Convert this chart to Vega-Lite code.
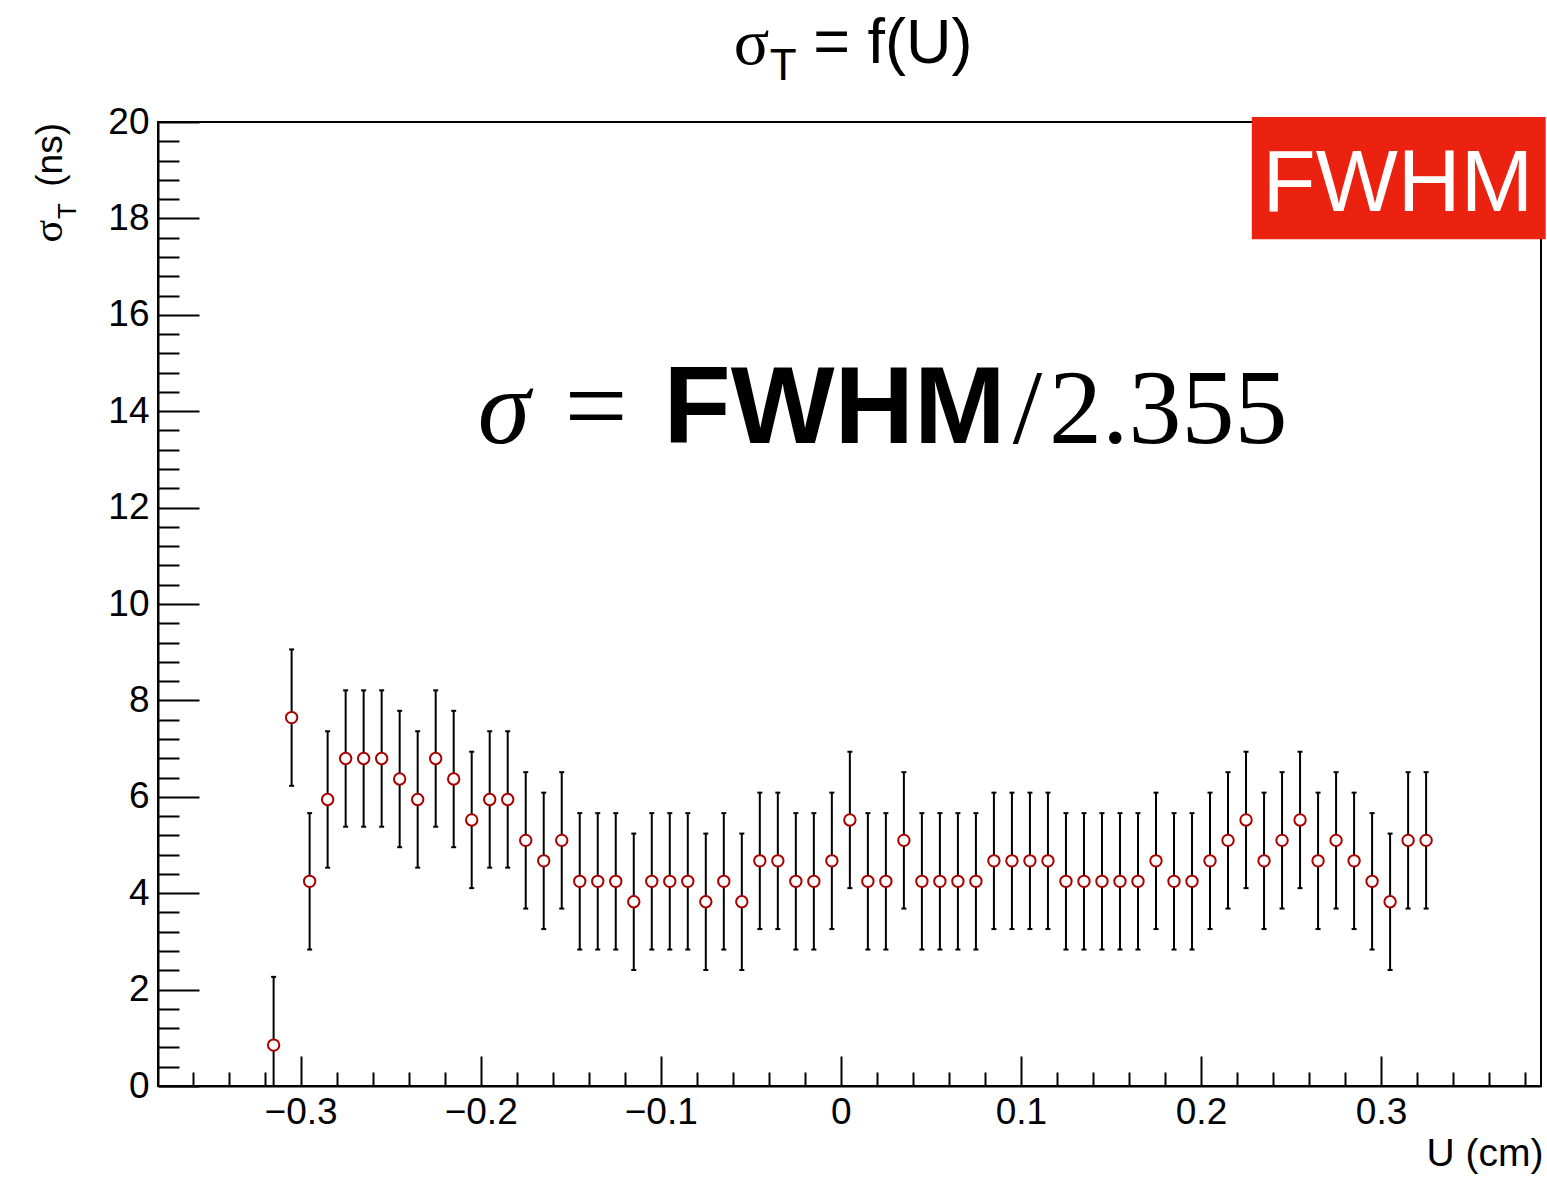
{
  "$schema": "https://vega.github.io/schema/vega-lite/v6.json",
  "width": 1383,
  "height": 964,
  "autosize": {"type": "none"},
  "padding": {"left": 158, "top": 122, "right": 6, "bottom": 92},
  "background": "white",
  "config": {
    "view": {"stroke": "black", "strokeWidth": 2},
    "axis": {
      "grid": false,
      "domainColor": "black",
      "domainWidth": 2,
      "tickColor": "black",
      "tickWidth": 2,
      "labelColor": "black",
      "labelFont": "Liberation Sans",
      "labelFontSize": 37,
      "titleFont": "Liberation Sans",
      "titleColor": "black",
      "titleFontWeight": "normal",
      "labelOverlap": false,
      "labelFlush": false
    }
  },
  "datasets": {
    "pts": [
      {"u": -0.315, "s": 0.849, "lo": -0.566, "hi": 2.264},
      {"u": -0.305, "s": 7.643, "lo": 6.228, "hi": 9.058},
      {"u": -0.295, "s": 4.246, "lo": 2.831, "hi": 5.661},
      {"u": -0.285, "s": 5.945, "lo": 4.530, "hi": 7.360},
      {"u": -0.275, "s": 6.794, "lo": 5.379, "hi": 8.209},
      {"u": -0.265, "s": 6.794, "lo": 5.379, "hi": 8.209},
      {"u": -0.255, "s": 6.794, "lo": 5.379, "hi": 8.209},
      {"u": -0.245, "s": 6.369, "lo": 4.954, "hi": 7.784},
      {"u": -0.235, "s": 5.945, "lo": 4.530, "hi": 7.360},
      {"u": -0.225, "s": 6.794, "lo": 5.379, "hi": 8.209},
      {"u": -0.215, "s": 6.369, "lo": 4.954, "hi": 7.784},
      {"u": -0.205, "s": 5.520, "lo": 4.105, "hi": 6.935},
      {"u": -0.195, "s": 5.945, "lo": 4.530, "hi": 7.360},
      {"u": -0.185, "s": 5.945, "lo": 4.530, "hi": 7.360},
      {"u": -0.175, "s": 5.096, "lo": 3.681, "hi": 6.511},
      {"u": -0.165, "s": 4.671, "lo": 3.256, "hi": 6.086},
      {"u": -0.155, "s": 5.096, "lo": 3.681, "hi": 6.511},
      {"u": -0.145, "s": 4.246, "lo": 2.831, "hi": 5.661},
      {"u": -0.135, "s": 4.246, "lo": 2.831, "hi": 5.661},
      {"u": -0.125, "s": 4.246, "lo": 2.831, "hi": 5.661},
      {"u": -0.115, "s": 3.822, "lo": 2.407, "hi": 5.237},
      {"u": -0.105, "s": 4.246, "lo": 2.831, "hi": 5.661},
      {"u": -0.095, "s": 4.246, "lo": 2.831, "hi": 5.661},
      {"u": -0.085, "s": 4.246, "lo": 2.831, "hi": 5.661},
      {"u": -0.075, "s": 3.822, "lo": 2.407, "hi": 5.237},
      {"u": -0.065, "s": 4.246, "lo": 2.831, "hi": 5.661},
      {"u": -0.055, "s": 3.822, "lo": 2.407, "hi": 5.237},
      {"u": -0.045, "s": 4.671, "lo": 3.256, "hi": 6.086},
      {"u": -0.035, "s": 4.671, "lo": 3.256, "hi": 6.086},
      {"u": -0.025, "s": 4.246, "lo": 2.831, "hi": 5.661},
      {"u": -0.015, "s": 4.246, "lo": 2.831, "hi": 5.661},
      {"u": -0.005, "s": 4.671, "lo": 3.256, "hi": 6.086},
      {"u": 0.005, "s": 5.520, "lo": 4.105, "hi": 6.935},
      {"u": 0.015, "s": 4.246, "lo": 2.831, "hi": 5.661},
      {"u": 0.025, "s": 4.246, "lo": 2.831, "hi": 5.661},
      {"u": 0.035, "s": 5.096, "lo": 3.681, "hi": 6.511},
      {"u": 0.045, "s": 4.246, "lo": 2.831, "hi": 5.661},
      {"u": 0.055, "s": 4.246, "lo": 2.831, "hi": 5.661},
      {"u": 0.065, "s": 4.246, "lo": 2.831, "hi": 5.661},
      {"u": 0.075, "s": 4.246, "lo": 2.831, "hi": 5.661},
      {"u": 0.085, "s": 4.671, "lo": 3.256, "hi": 6.086},
      {"u": 0.095, "s": 4.671, "lo": 3.256, "hi": 6.086},
      {"u": 0.105, "s": 4.671, "lo": 3.256, "hi": 6.086},
      {"u": 0.115, "s": 4.671, "lo": 3.256, "hi": 6.086},
      {"u": 0.125, "s": 4.246, "lo": 2.831, "hi": 5.661},
      {"u": 0.135, "s": 4.246, "lo": 2.831, "hi": 5.661},
      {"u": 0.145, "s": 4.246, "lo": 2.831, "hi": 5.661},
      {"u": 0.155, "s": 4.246, "lo": 2.831, "hi": 5.661},
      {"u": 0.165, "s": 4.246, "lo": 2.831, "hi": 5.661},
      {"u": 0.175, "s": 4.671, "lo": 3.256, "hi": 6.086},
      {"u": 0.185, "s": 4.246, "lo": 2.831, "hi": 5.661},
      {"u": 0.195, "s": 4.246, "lo": 2.831, "hi": 5.661},
      {"u": 0.205, "s": 4.671, "lo": 3.256, "hi": 6.086},
      {"u": 0.215, "s": 5.096, "lo": 3.681, "hi": 6.511},
      {"u": 0.225, "s": 5.520, "lo": 4.105, "hi": 6.935},
      {"u": 0.235, "s": 4.671, "lo": 3.256, "hi": 6.086},
      {"u": 0.245, "s": 5.096, "lo": 3.681, "hi": 6.511},
      {"u": 0.255, "s": 5.520, "lo": 4.105, "hi": 6.935},
      {"u": 0.265, "s": 4.671, "lo": 3.256, "hi": 6.086},
      {"u": 0.275, "s": 5.096, "lo": 3.681, "hi": 6.511},
      {"u": 0.285, "s": 4.671, "lo": 3.256, "hi": 6.086},
      {"u": 0.295, "s": 4.246, "lo": 2.831, "hi": 5.661},
      {"u": 0.305, "s": 3.822, "lo": 2.407, "hi": 5.237},
      {"u": 0.315, "s": 5.096, "lo": 3.681, "hi": 6.511},
      {"u": 0.325, "s": 5.096, "lo": 3.681, "hi": 6.511}
    ]
  },
  "resolve": {"axis": {"x": "independent", "y": "independent"}},
  "layer": [
    {
      "data": {"values": [{}]},
      "mark": {"type": "rect", "fill": "#ec2210"},
      "encoding": {
        "x": {"datum": 0.2282, "type": "quantitative", "scale": {"domain": [-0.3792, 0.3888], "nice": false, "zero": false}, "axis": null},
        "x2": {"datum": 0.3914},
        "y": {"datum": 20.106, "type": "quantitative", "scale": {"domain": [0, 20], "nice": false, "zero": false}, "axis": null},
        "y2": {"datum": 17.566}
      }
    },
    {
      "data": {"values": [{}]},
      "mark": {"type": "text", "text": "FWHM", "fill": "white", "font": "Liberation Sans", "fontSize": 87, "align": "center", "baseline": "alphabetic"},
      "encoding": {
        "x": {"datum": 0.3093, "type": "quantitative", "scale": {"domain": [-0.3792, 0.3888], "nice": false, "zero": false}, "axis": null},
        "y": {"datum": 18.154, "type": "quantitative", "scale": {"domain": [0, 20], "nice": false, "zero": false}, "axis": null}
      }
    },
    {
      "data": {"name": "pts"},
      "mark": {"type": "rule", "stroke": "black", "strokeWidth": 2, "clip": true},
      "encoding": {
        "x": {"field": "u", "type": "quantitative", "scale": {"domain": [-0.3792, 0.3888], "nice": false, "zero": false},
          "axis": {"orient": "bottom", "values": [-0.3, -0.2, -0.1, 0, 0.1, 0.2, 0.3], "format": "~g", "ticks": false, "domain": true, "labelPadding": 8,
            "title": "U (cm)", "titleFontSize": 39, "titleAnchor": "end", "titleAlign": "right", "titleBaseline": "alphabetic", "titleX": 1385, "titleY": 79}},
        "y": {"field": "lo", "type": "quantitative", "scale": {"domain": [0, 20], "nice": false, "zero": false},
          "axis": {"orient": "left", "values": [0, 2, 4, 6, 8, 10, 12, 14, 16, 18, 20], "ticks": false, "domain": true, "labelPadding": 9, "title": null}},
        "y2": {"field": "hi"}
      }
    },
    {
      "data": {"name": "pts"},
      "mark": {"type": "tick", "orient": "horizontal", "size": 5, "thickness": 2, "color": "black", "opacity": 1, "clip": true},
      "encoding": {
        "x": {"field": "u", "type": "quantitative", "scale": {"domain": [-0.3792, 0.3888], "nice": false, "zero": false},
          "axis": {"orient": "bottom", "values": [-0.3, -0.2, -0.1, 0, 0.1, 0.2, 0.3], "labels": false, "domain": false, "ticks": true, "tickSize": -30, "title": null}},
        "y": {"field": "hi", "type": "quantitative", "scale": {"domain": [0, 20], "nice": false, "zero": false},
          "axis": {"orient": "left", "values": [0, 2, 4, 6, 8, 10, 12, 14, 16, 18, 20], "labels": false, "domain": false, "ticks": true, "tickSize": -41, "title": null}}
      }
    },
    {
      "data": {"name": "pts"},
      "mark": {"type": "tick", "orient": "horizontal", "size": 5, "thickness": 2, "color": "black", "opacity": 1, "clip": true},
      "encoding": {
        "x": {"field": "u", "type": "quantitative", "scale": {"domain": [-0.3792, 0.3888], "nice": false, "zero": false}, "axis": null},
        "y": {"field": "lo", "type": "quantitative", "scale": {"domain": [0, 20], "nice": false, "zero": false}, "axis": null}
      }
    },
    {
      "data": {"name": "pts"},
      "mark": {"type": "point", "shape": "circle", "size": 130, "filled": true, "fill": "white", "stroke": "#aa0000", "strokeWidth": 2, "opacity": 1},
      "encoding": {
        "x": {"field": "u", "type": "quantitative", "scale": {"domain": [-0.3792, 0.3888], "nice": false, "zero": false},
          "axis": {"orient": "bottom", "values": [-0.36, -0.34, -0.32, -0.28, -0.26, -0.24, -0.22, -0.18, -0.16, -0.14, -0.12, -0.08, -0.06, -0.04, -0.02, 0.02, 0.04, 0.06, 0.08, 0.12, 0.14, 0.16, 0.18, 0.22, 0.24, 0.26, 0.28, 0.32, 0.34, 0.36, 0.38], "labels": false, "domain": false, "ticks": true, "tickSize": -14, "title": null}},
        "y": {"field": "s", "type": "quantitative", "scale": {"domain": [0, 20], "nice": false, "zero": false},
          "axis": {"orient": "left", "values": [0.4, 0.8, 1.2, 1.6, 2.4, 2.8, 3.2, 3.6, 4.4, 4.8, 5.2, 5.6, 6.4, 6.8, 7.2, 7.6, 8.4, 8.8, 9.2, 9.6, 10.4, 10.8, 11.2, 11.6, 12.4, 12.8, 13.2, 13.6, 14.4, 14.8, 15.2, 15.6, 16.4, 16.8, 17.2, 17.6, 18.4, 18.8, 19.2, 19.6], "labels": false, "domain": false, "ticks": true, "tickSize": -21, "title": null}}
      }
    },
    {
      "data": {"values": [{}]},
      "mark": {"type": "text", "text": "σ", "fill": "black", "font": "Liberation Serif", "fontSize": 66, "align": "left", "baseline": "alphabetic"},
      "encoding": {
        "x": {"datum": -0.0595, "type": "quantitative", "scale": {"domain": [-0.3792, 0.3888], "nice": false, "zero": false}, "axis": null},
        "y": {"datum": 21.2, "type": "quantitative", "scale": {"domain": [0, 20], "nice": false, "zero": false}, "axis": null}
      }
    },
    {
      "data": {"values": [{}]},
      "mark": {"type": "text", "text": "T", "fill": "black", "font": "Liberation Sans", "fontSize": 44, "align": "left", "baseline": "alphabetic"},
      "encoding": {
        "x": {"datum": -0.0395, "type": "quantitative", "scale": {"domain": [-0.3792, 0.3888], "nice": false, "zero": false}, "axis": null},
        "y": {"datum": 20.871, "type": "quantitative", "scale": {"domain": [0, 20], "nice": false, "zero": false}, "axis": null}
      }
    },
    {
      "data": {"values": [{}]},
      "mark": {"type": "text", "text": "= f(U)", "fill": "black", "font": "Liberation Sans", "fontSize": 63, "align": "left", "baseline": "alphabetic"},
      "encoding": {
        "x": {"datum": -0.0153, "type": "quantitative", "scale": {"domain": [-0.3792, 0.3888], "nice": false, "zero": false}, "axis": null},
        "y": {"datum": 21.224, "type": "quantitative", "scale": {"domain": [0, 20], "nice": false, "zero": false}, "axis": null}
      }
    },
    {
      "data": {"values": [{}]},
      "mark": {"type": "text", "text": "σ", "fill": "black", "font": "Liberation Serif", "fontStyle": "italic", "fontSize": 106, "align": "left", "baseline": "alphabetic"},
      "encoding": {
        "x": {"datum": -0.2016, "type": "quantitative", "scale": {"domain": [-0.3792, 0.3888], "nice": false, "zero": false}, "axis": null},
        "y": {"datum": 13.33, "type": "quantitative", "scale": {"domain": [0, 20], "nice": false, "zero": false}, "axis": null}
      }
    },
    {
      "data": {"values": [{}]},
      "mark": {"type": "text", "text": "=", "fill": "black", "font": "Liberation Serif", "fontSize": 112, "align": "left", "baseline": "alphabetic"},
      "encoding": {
        "x": {"datum": -0.1535, "type": "quantitative", "scale": {"domain": [-0.3792, 0.3888], "nice": false, "zero": false}, "axis": null},
        "y": {"datum": 13.33, "type": "quantitative", "scale": {"domain": [0, 20], "nice": false, "zero": false}, "axis": null}
      }
    },
    {
      "data": {"values": [{}]},
      "mark": {"type": "text", "text": "FWHM", "fill": "black", "font": "Liberation Sans", "fontWeight": "bold", "fontSize": 110, "align": "left", "baseline": "alphabetic"},
      "encoding": {
        "x": {"datum": -0.0985, "type": "quantitative", "scale": {"domain": [-0.3792, 0.3888], "nice": false, "zero": false}, "axis": null},
        "y": {"datum": 13.33, "type": "quantitative", "scale": {"domain": [0, 20], "nice": false, "zero": false}, "axis": null}
      }
    },
    {
      "data": {"values": [{}]},
      "mark": {"type": "text", "text": "/", "fill": "black", "font": "Liberation Serif", "fontSize": 106, "align": "left", "baseline": "alphabetic"},
      "encoding": {
        "x": {"datum": 0.0955, "type": "quantitative", "scale": {"domain": [-0.3792, 0.3888], "nice": false, "zero": false}, "axis": null},
        "y": {"datum": 13.33, "type": "quantitative", "scale": {"domain": [0, 20], "nice": false, "zero": false}, "axis": null}
      }
    },
    {
      "data": {"values": [{}]},
      "mark": {"type": "text", "text": "2.355", "fill": "black", "font": "Liberation Serif", "fontSize": 106, "align": "right", "baseline": "alphabetic"},
      "encoding": {
        "x": {"datum": 0.248, "type": "quantitative", "scale": {"domain": [-0.3792, 0.3888], "nice": false, "zero": false}, "axis": null},
        "y": {"datum": 13.33, "type": "quantitative", "scale": {"domain": [0, 20], "nice": false, "zero": false}, "axis": null}
      }
    },
    {
      "data": {"values": [{}]},
      "mark": {"type": "text", "text": "(ns)", "fill": "black", "font": "Liberation Sans", "fontSize": 37, "angle": 270, "align": "right", "baseline": "alphabetic"},
      "encoding": {
        "x": {"datum": -0.4325, "type": "quantitative", "scale": {"domain": [-0.3792, 0.3888], "nice": false, "zero": false}, "axis": null},
        "y": {"datum": 19.98, "type": "quantitative", "scale": {"domain": [0, 20], "nice": false, "zero": false}, "axis": null}
      }
    },
    {
      "data": {"values": [{}]},
      "mark": {"type": "text", "text": "σ", "fill": "black", "font": "Liberation Serif", "fontSize": 42, "angle": 270, "align": "left", "baseline": "alphabetic"},
      "encoding": {
        "x": {"datum": -0.4325, "type": "quantitative", "scale": {"domain": [-0.3792, 0.3888], "nice": false, "zero": false}, "axis": null},
        "y": {"datum": 17.5, "type": "quantitative", "scale": {"domain": [0, 20], "nice": false, "zero": false}, "axis": null}
      }
    },
    {
      "data": {"values": [{}]},
      "mark": {"type": "text", "text": "T", "fill": "black", "font": "Liberation Sans", "fontSize": 26, "angle": 270, "align": "left", "baseline": "alphabetic"},
      "encoding": {
        "x": {"datum": -0.4245, "type": "quantitative", "scale": {"domain": [-0.3792, 0.3888], "nice": false, "zero": false}, "axis": null},
        "y": {"datum": 17.99, "type": "quantitative", "scale": {"domain": [0, 20], "nice": false, "zero": false}, "axis": null}
      }
    }
  ]
}
